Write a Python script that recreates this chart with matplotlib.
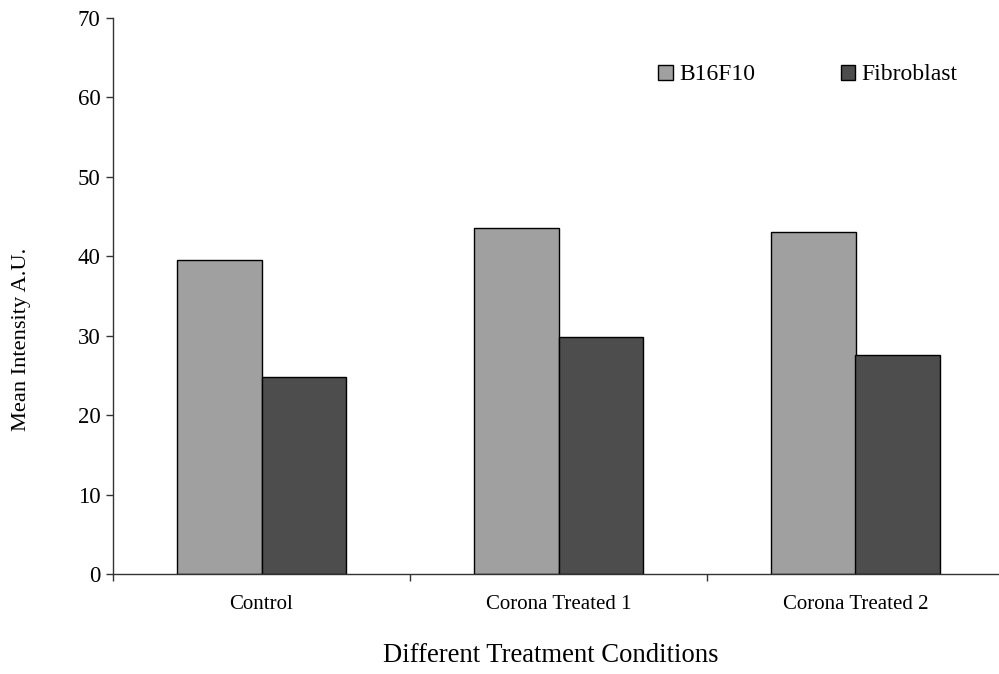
import numpy as np
import matplotlib
matplotlib.use("Agg")
import matplotlib.pyplot as plt
from matplotlib.patches import Patch

plt.rcParams['font.family'] = ['Liberation Serif', 'DejaVu Serif']

categories = ['Control', 'Corona Treated 1', 'Corona Treated 2']
b16f10 = [39.5, 43.6, 43.05]
fibroblast = [24.8, 29.8, 27.6]

W, H = 999, 674
fig = plt.figure(figsize=(W / 100, H / 100), dpi=100)
# axes box in pixels: x 113..1004, y 18..574
ax = fig.add_axes([113 / W, (H - 574) / H, (1004 - 113) / W, (574 - 18) / H])

x = np.arange(len(categories))
bw = 0.286
light = '#a0a0a0'
dark = '#4d4d4d'
ax.bar(x - bw / 2, b16f10, bw, color=light, edgecolor='black', linewidth=1, zorder=2)
ax.bar(x + bw / 2, fibroblast, bw, color=dark, edgecolor='black', linewidth=1, zorder=2)

ax.set_xlim(-0.5, 2.5)
ax.set_ylim(0, 70)
ax.set_yticks(range(0, 71, 10))
ax.set_xticks([-0.5, 0.5, 1.5, 2.5])
ax.set_xticklabels([])
ax.tick_params(axis='y', direction='out', length=5, width=1, colors='#333333',
               labelcolor='black', labelsize=16.5, pad=4)
ax.tick_params(axis='x', direction='out', length=5, width=1, colors='#333333')

for s in ['top', 'right']:
    ax.spines[s].set_visible(False)
for s in ['left', 'bottom']:
    ax.spines[s].set_color('#333333')
    ax.spines[s].set_linewidth(1)

for i, c in enumerate(categories):
    ax.text(i, -3.9, c, ha='center', va='center', fontsize=15)

fig.text(22 / W, 1 - 339 / H, 'Mean Intensity A.U.', rotation=90,
         ha='center', va='center', fontsize=16.1)
fig.text(551 / W, 1 - 655 / H, 'Different Treatment Conditions',
         ha='center', va='center', fontsize=19.2)

handles = [Patch(facecolor=light, edgecolor='black', linewidth=1),
           Patch(facecolor=dark, edgecolor='black', linewidth=1)]
fig.legend(handles, ['B16F10', 'Fibroblast'], ncol=2, frameon=False,
           loc='center left', bbox_to_anchor=(658 / W, 1 - 75 / H),
           fontsize=17, handlelength=0.62, handleheight=0.62,
           handletextpad=0.27, columnspacing=3.63, borderpad=0, borderaxespad=0)

fig.savefig('out.png', dpi=100)
